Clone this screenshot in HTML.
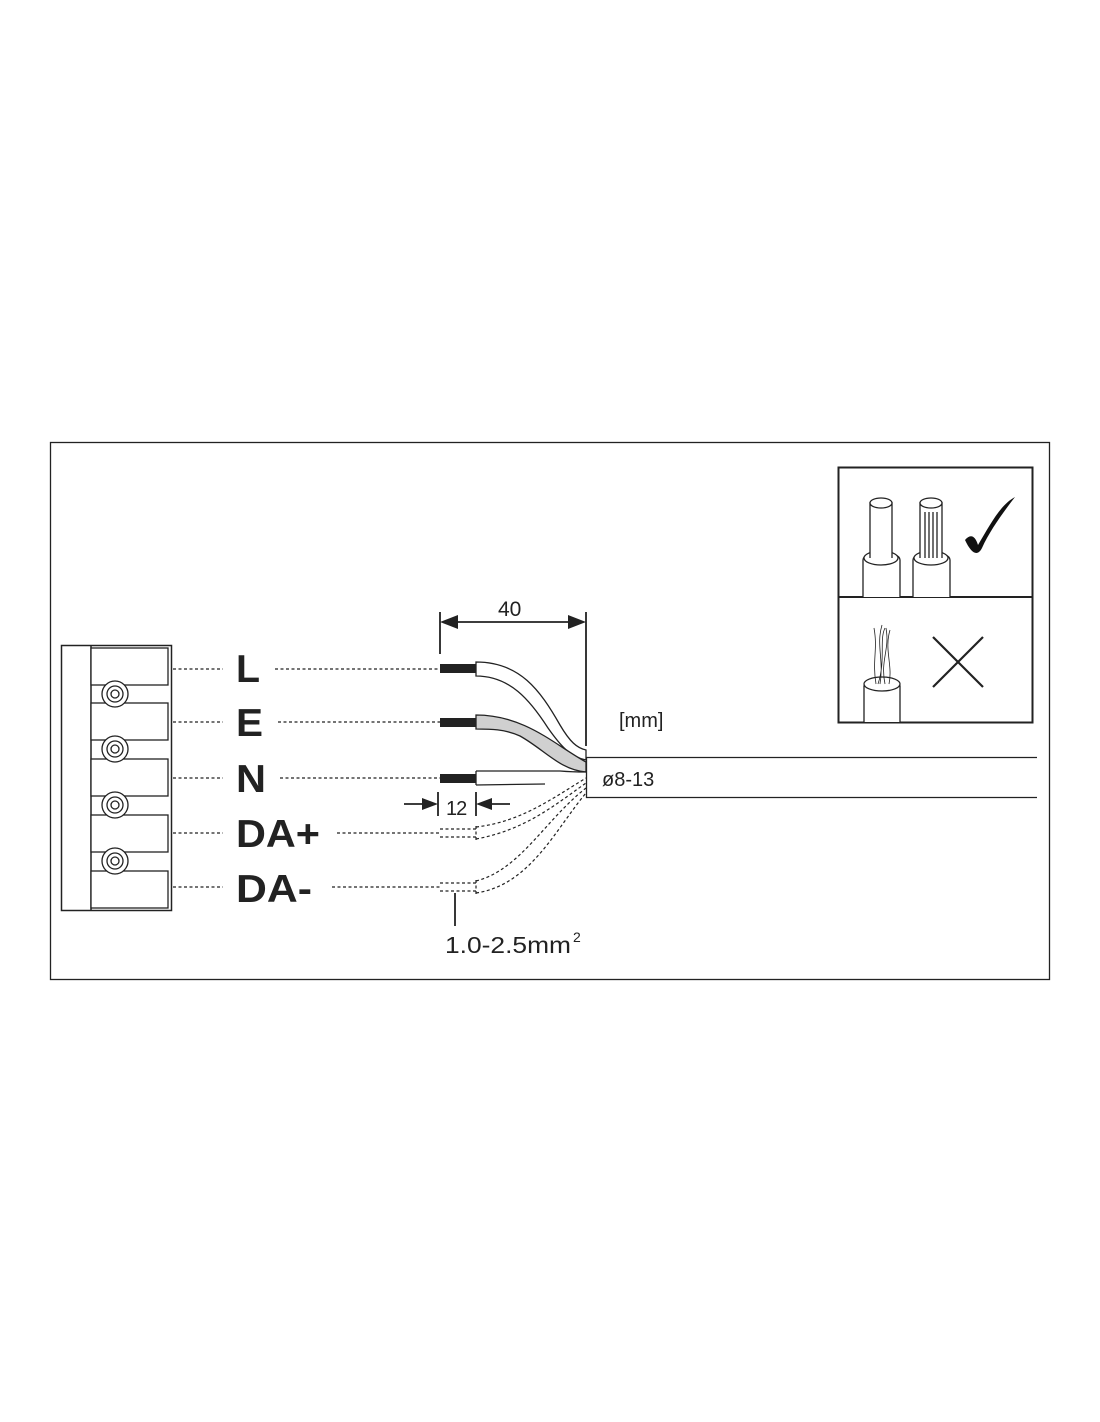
<!DOCTYPE html>
<html><head><style>body{margin:0;background:#fff}svg{display:block}</style></head><body>
<svg width="1100" height="1422" viewBox="0 0 1100 1422" xmlns="http://www.w3.org/2000/svg" font-family="Liberation Sans, Arial, sans-serif">
<rect x="50.5" y="442.5" width="999" height="537" fill="none" stroke="#222" stroke-width="1.3"/>
<!-- connector -->
<rect x="61.5" y="645.5" width="110" height="265" fill="#fff" stroke="#222" stroke-width="1.5"/>
<line x1="91" y1="646" x2="91" y2="910" stroke="#222" stroke-width="1.5"/>
<g fill="#fff" stroke="#222" stroke-width="1.3">
<rect x="91" y="648" width="77" height="37"/><rect x="91" y="703" width="77" height="37"/><rect x="91" y="759" width="77" height="37"/><rect x="91" y="815" width="77" height="37"/><rect x="91" y="871" width="77" height="37"/>
</g>
<g fill="#fff" stroke="#222" stroke-width="1.3">
<circle cx="115" cy="694" r="13"/><circle cx="115" cy="694" r="8"/><circle cx="115" cy="694" r="4"/>
<circle cx="115" cy="749" r="13"/><circle cx="115" cy="749" r="8"/><circle cx="115" cy="749" r="4"/>
<circle cx="115" cy="805" r="13"/><circle cx="115" cy="805" r="8"/><circle cx="115" cy="805" r="4"/>
<circle cx="115" cy="861" r="13"/><circle cx="115" cy="861" r="8"/><circle cx="115" cy="861" r="4"/>
</g>
<!-- dotted leaders -->
<g stroke="#222" stroke-width="1.3" stroke-dasharray="3,2.5">
<line x1="173" y1="669" x2="223" y2="669"/><line x1="275" y1="669" x2="440" y2="669"/>
<line x1="173" y1="722" x2="223" y2="722"/><line x1="278" y1="722" x2="440" y2="722"/>
<line x1="173" y1="778" x2="223" y2="778"/><line x1="280" y1="778" x2="440" y2="778"/>
<line x1="173" y1="833" x2="223" y2="833"/><line x1="337" y1="833" x2="440" y2="833"/>
<line x1="173" y1="887" x2="223" y2="887"/><line x1="332" y1="887" x2="440" y2="887"/>
</g>
<g font-weight="bold" font-size="39" fill="#222">
<text x="236" y="682" textLength="24" lengthAdjust="spacingAndGlyphs">L</text>
<text x="236" y="736" textLength="27" lengthAdjust="spacingAndGlyphs">E</text>
<text x="236" y="792" textLength="30" lengthAdjust="spacingAndGlyphs">N</text>
<text x="236" y="847" textLength="84" lengthAdjust="spacingAndGlyphs">DA+</text>
<text x="236" y="902" textLength="76" lengthAdjust="spacingAndGlyphs">DA-</text>
</g>
<!-- wires -->
<g stroke="#222" stroke-width="1.3">
<path d="M476,662 C520,662 540,690 560,725 C570,742 577,748 586,750 L586,760 C570,757 560,745 548,728 C530,700 510,676 476,676 Z" fill="#fff"/>
<path d="M476,715 C525,715 555,745 586,762 L586,772 C560,770 545,750 520,736 C505,729 490,729 476,729 Z" fill="#d0d0d0"/>
<path d="M476,771 L560,771 C572,772 580,772 586,772 M476,785 L545,784" fill="none"/>
<line x1="476" y1="771" x2="476" y2="785"/>
</g>
<g fill="#222"><rect x="440" y="664" width="36" height="9"/><rect x="440" y="718" width="36" height="9"/><rect x="440" y="774" width="36" height="9"/></g>
<!-- dashed inner wires -->
<g stroke="#222" stroke-width="1.2" stroke-dasharray="3,2.5" fill="none">
<path d="M440,829 L476,829 M440,837 L476,837 M440,883 L476,883 M440,891 L476,891"/>
<path d="M476,827 C520,822 550,800 586,778"/>
<path d="M476,839 C525,830 555,805 586,783"/>
<path d="M476,881 C520,870 545,820 586,788"/>
<path d="M476,893 C530,885 555,830 586,793"/>
<path d="M476,826 L476,840 M476,880 L476,894"/>
</g>
<!-- cable -->
<path d="M1037,757.5 L586.5,757.5 L586.5,797.5 L1037,797.5" fill="#fff" stroke="#222" stroke-width="1.3"/>
<text x="602" y="786" font-size="20" fill="#222">ø8-13</text>
<text x="619" y="727" font-size="20" fill="#222">[mm]</text>
<!-- dim 40 -->
<g stroke="#222" stroke-width="1.8">
<line x1="440" y1="612" x2="440" y2="654"/><line x1="586" y1="612" x2="586" y2="746"/>
<line x1="452" y1="622" x2="574" y2="622"/>
</g>
<path d="M440,622 L458,615 L458,629 Z M586,622 L568,615 L568,629 Z" fill="#222"/>
<text x="498" y="616" font-size="21" fill="#222">40</text>
<!-- dim 12 -->
<g stroke="#222" stroke-width="1.8">
<line x1="438" y1="792" x2="438" y2="816"/><line x1="476" y1="792" x2="476" y2="816"/>
<line x1="404" y1="804" x2="426" y2="804"/><line x1="488" y1="804" x2="510" y2="804"/>
</g>
<path d="M438,804 L422,798 L422,810 Z M476,804 L492,798 L492,810 Z" fill="#222"/>
<text x="446" y="815" font-size="20" fill="#222" letter-spacing="-1">12</text>
<line x1="455" y1="893" x2="455" y2="926" stroke="#222" stroke-width="1.8"/>
<text x="445" y="953" font-size="23" fill="#222" textLength="126" lengthAdjust="spacingAndGlyphs">1.0-2.5mm</text>
<text x="573" y="942" font-size="14" fill="#222">2</text>
<!-- right panel -->
<rect x="838.5" y="467.5" width="194" height="255" fill="#fff" stroke="#222" stroke-width="2"/>
<line x1="838" y1="597" x2="1032" y2="597" stroke="#222" stroke-width="2"/>
<g stroke="#222" stroke-width="1.3" fill="#fff">
<path d="M863,597 L863,560 C863,550 900,550 900,560 L900,597"/>
<ellipse cx="881" cy="558" rx="17" ry="7"/>
<path d="M870,558 L870,503 L892,503 L892,558"/>
<ellipse cx="881" cy="503" rx="11" ry="5"/>
<path d="M913,597 L913,560 C913,550 950,550 950,560 L950,597"/>
<ellipse cx="931" cy="558" rx="17" ry="7"/>
<path d="M920,558 L920,503 L942,503 L942,558"/>
<ellipse cx="931" cy="503" rx="11" ry="5"/>
<path d="M925,512 L925,558 M929,512 L929,558 M933,512 L933,558 M937,512 L937,558" fill="none"/>
<path d="M864,722 L864,686 C864,676 900,676 900,686 L900,722"/>
<ellipse cx="882" cy="684" rx="18" ry="7"/>
<path d="M876,684 C872,660 878,650 874,628 M880,684 C884,660 876,645 882,625 M885,684 C880,660 890,650 886,628 M889,684 C893,665 884,650 890,630 M878,684 C886,660 879,640 885,628" fill="none" stroke-width="0.8"/>
</g>
<path d="M965,540 C970,534 975,535 978,545 C990,525 1000,505 1015,497 C1005,510 990,530 982,548 C978,556 972,555 965,540 Z" fill="#111"/>
<g stroke="#222" stroke-width="2.2"><line x1="933" y1="637" x2="983" y2="687"/><line x1="983" y1="637" x2="933" y2="687"/></g>
</svg>
</body></html>
